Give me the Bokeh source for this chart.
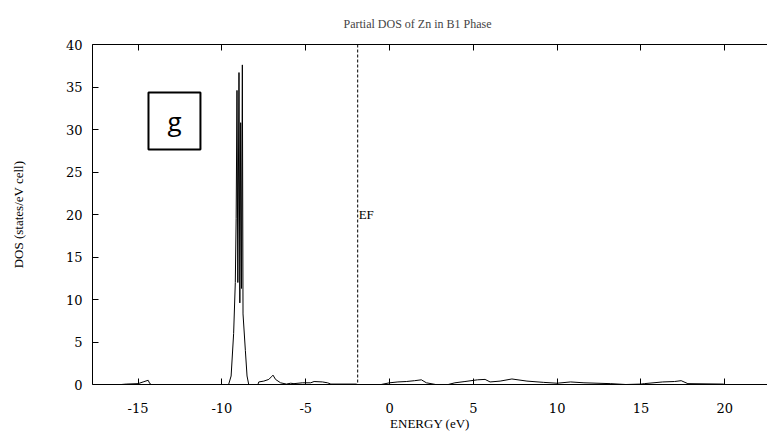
from bokeh.plotting import figure
from bokeh.models import (Range1d, LinearAxis, Span, Label, BoxAnnotation,
                          FixedTicker, CustomJSTickFormatter)
from bokeh.embed import file_html
from bokeh.resources import INLINE

# ---- data ----
energy = [-16.0, -15.7, -15.0, -14.7, -14.4, -14.3, -14.2,
          -9.6, -9.45, -9.3, -9.2, -9.15, -9.1, -9.05, -8.98, -8.93, -8.88,
          -8.83, -8.78, -8.74, -8.6, -8.5, -8.4,
          -7.85, -7.8, -7.5, -7.2, -7.05, -6.95, -6.8, -6.5, -6.15, -5.9,
          -5.7, -5.2, -4.7, -4.5, -4.0, -3.7, -3.5, -2.0, -1.9, -0.5,
          0.0, 0.5, 1.0, 1.5, 1.9, 2.2, 2.75, 3.5, 3.9, 4.5, 5.25, 5.7,
          6.0, 6.6, 7.3, 8.2, 9.2, 10.0, 10.8, 11.6, 13.2, 14.1, 15.0,
          15.2, 16.3, 17.0, 17.4, 17.8, 19.9, 20.0]
dos = [0.0, 0.05, 0.1, 0.3, 0.5, 0.1, 0.0,
       0.0, 1.0, 6.0, 12.0, 19.5, 34.6, 12.0, 36.7, 9.6, 30.8,
       11.3, 37.6, 8.3, 4.0, 1.0, 0.0,
       0.0, 0.3, 0.4, 0.6, 0.9, 1.1, 0.6, 0.2, 0.05, 0.15,
       0.1, 0.2, 0.2, 0.35, 0.3, 0.2, 0.05, 0.05, 0.0, 0.0,
       0.2, 0.3, 0.35, 0.45, 0.55, 0.2, 0.0, 0.0, 0.2, 0.35, 0.55, 0.6,
       0.3, 0.4, 0.65, 0.4, 0.25, 0.15, 0.3, 0.2, 0.1, 0.0, 0.05,
       0.1, 0.3, 0.35, 0.45, 0.1, 0.05, 0.0]
x_ticks = [-15, -10, -5, 0, 5, 10, 15, 20]
x_tick_labels = ["-15", "-10", "-5", "0", "5", "10", "15", "20"]
y_ticks = [0, 5, 10, 15, 20, 25, 30, 35, 40]
fermi_energy = -1.9

title_text = "Partial DOS of Zn in B1 Phase"
x_label = "ENERGY (eV)"
y_label = "DOS (states/eV cell)"
panel_letter = "g"

SERIF = "Liberation Serif"
TICKFONT = "DejaVu Serif"

p = figure(width=767, height=434, output_backend="svg", toolbar_location=None,
           x_range=Range1d(-17.72, 22.55), y_range=Range1d(0, 40),
           min_border_left=92, min_border_right=0, min_border_top=44,
           min_border_bottom=50, title=title_text)
p.outline_line_color = None
p.xgrid.visible = False
p.ygrid.visible = False
p.background_fill_color = "white"
p.border_fill_color = "white"

p.title.text_font = SERIF
p.title.text_font_size = "12px"
p.title.text_font_style = "normal"
p.title.align = "left"
p.title.offset = 251
p.title.standoff = 28

for ax in (p.xaxis[0], p.yaxis[0]):
    ax.axis_line_color = "black"
    ax.major_tick_line_color = "black"
    ax.minor_tick_line_color = None
    ax.major_tick_out = 0
    ax.major_tick_in = 6
    ax.major_label_text_font = TICKFONT
    ax.major_label_text_font_size = "13px"
    ax.major_label_text_color = "black"
    ax.axis_label_text_font = SERIF
    ax.axis_label_text_font_size = "13px"
    ax.axis_label_text_font_style = "normal"
    ax.axis_label_text_color = "black"

p.xaxis.ticker = FixedTicker(ticks=x_ticks)
p.xaxis.major_label_overrides = {float(t): s for t, s in zip(x_ticks, x_tick_labels)}
p.yaxis.ticker = FixedTicker(ticks=y_ticks)
p.xaxis.axis_label = x_label
p.yaxis.axis_label = y_label
p.xaxis.major_label_standoff = 18
p.xaxis.axis_label_standoff = 0
p.yaxis.major_label_standoff = 10
p.yaxis.axis_label_standoff = 37

top = LinearAxis(ticker=FixedTicker(ticks=x_ticks),
                 formatter=CustomJSTickFormatter(code="return ''"))
top.axis_line_color = "black"
top.major_tick_line_color = "black"
top.minor_tick_line_color = None
top.major_tick_out = 0
top.major_tick_in = 6
top.major_label_standoff = 0
top.major_label_text_font_size = "1px"
p.add_layout(top, "above")

p.line(energy, dos, line_color="black", line_width=1)

p.add_layout(Span(location=fermi_energy, dimension="height", line_color="black",
                  line_width=1, line_dash="3 2"))
p.add_layout(Label(x=fermi_energy, y=20, text="EF", x_offset=1,
                   text_baseline="middle", text_font=SERIF,
                   text_font_size="13px", text_color="black"))

# panel letter box
p.add_layout(BoxAnnotation(left=-14.38, right=-11.28, bottom=27.65, top=34.35,
                           fill_color=None, fill_alpha=0, line_color="black",
                           line_alpha=1.0, line_width=2, level="overlay"))
p.add_layout(Label(x=-12.83, y=31.0, text=panel_letter, text_align="center",
                   text_baseline="middle", text_font="Open Sans",
                   text_font_size="26px", text_color="black"))

open("out.html", "w").write(file_html(p, INLINE))
